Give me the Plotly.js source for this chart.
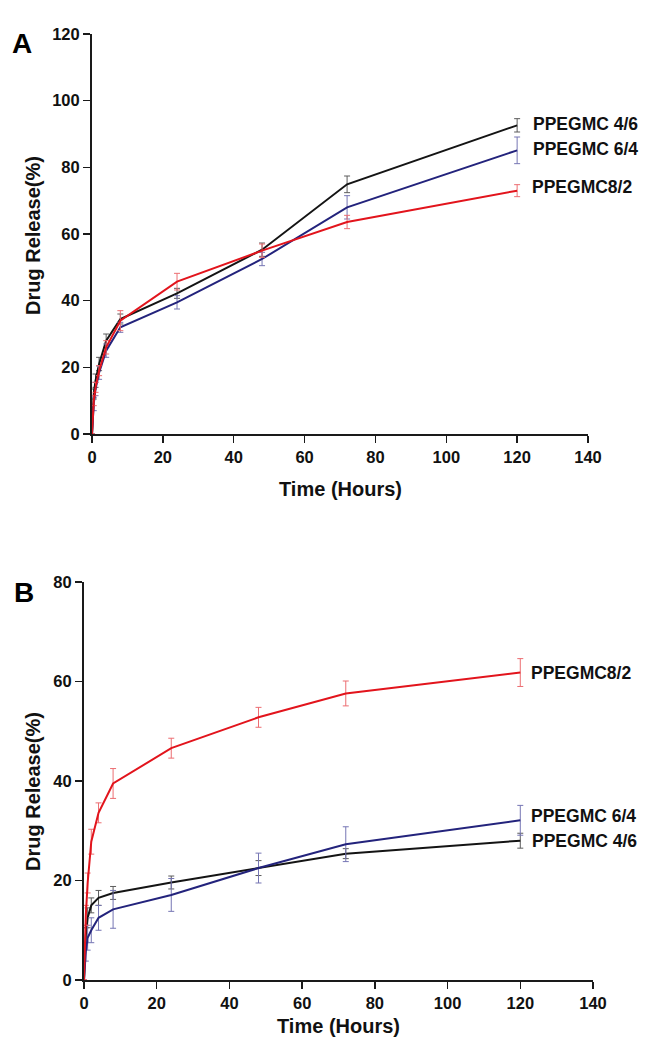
<!DOCTYPE html>
<html>
<head>
<meta charset="utf-8">
<script src="https://cdn.plot.ly/plotly-3.0.1.min.js"></script>
<style>html,body{margin:0;padding:0;background:#fff;}#chart{width:658px;height:1050px;}</style>
</head>
<body>
<div id="chart"></div>
<script>
// ---- data ----
const timeHours = [0, 0.5, 1, 2, 4, 8, 24, 48, 72, 120];

// Panel A
const A_ppegmc46 = [0, 12, 16, 21, 28, 34.5, 42.2, 55.3, 74.9, 92.6];
const A_ppegmc46_sd = [0, 1.5, 2, 2, 2, 1.5, 1.5, 2, 2.5, 2];
const A_ppegmc64 = [0, 9, 13.5, 18.4, 25, 32, 39.5, 52.5, 68, 85.1];
const A_ppegmc64_sd = [0, 2, 2, 2, 2, 1.5, 2, 2, 3.5, 4];
const A_ppegmc82 = [0, 10, 14, 19, 26, 34, 45.7, 55, 63.6, 73];
const A_ppegmc82_sd = [0, 1.5, 1.5, 1.5, 2, 3, 2.5, 2, 2, 1.8];

// Panel B
const B_ppegmc46 = [0, 9, 12.5, 15, 16.5, 17.5, 19.6, 22.5, 25.4, 28];
const B_ppegmc46_sd = [0, 1.5, 2, 1.5, 1.5, 1.3, 1.3, 1.5, 1, 1.5];
const B_ppegmc64 = [0, 5.8, 8.5, 10, 12.5, 14.2, 17.1, 22.5, 27.3, 32.1];
const B_ppegmc64_sd = [0, 2, 2.5, 2.5, 2.5, 3.8, 3.3, 3, 3.5, 3];
const B_ppegmc82 = [0, 13, 19.5, 27.8, 33.6, 39.5, 46.6, 52.8, 57.6, 61.8];
const B_ppegmc82_sd = [0, 2, 2, 2.5, 2, 3, 2, 2, 2.5, 2.8];

const seriesNames = ['PPEGMC 4/6', 'PPEGMC 6/4', 'PPEGMC8/2'];
const xTicks = [0, 20, 40, 60, 80, 100, 120, 140];
const yTicksA = [0, 20, 40, 60, 80, 100, 120];
const yTicksB = [0, 20, 40, 60, 80];
const panelLetters = ['A', 'B'];
const xTitle = 'Time (Hours)';
const yTitle = 'Drug Release(%)';

// ---- styling ----
const FONT = '"Liberation Sans", Arial, Helvetica, sans-serif';
const lineColors = ['#141414', '#23237c', '#e2141c'];
const barColors = ['#5c5c5c', '#7676b4', '#ec6e72'];
const W = 658, H = 1050;
const px = v => v / W;
const py = v => 1 - v / H;

function tr(y, sd, i, xa, ya) {
  return {
    x: timeHours, y: y, type: 'scatter', mode: 'lines',
    name: seriesNames[i], xaxis: xa, yaxis: ya, showlegend: false,
    line: {color: lineColors[i], width: 2},
    error_y: {type: 'data', array: sd, visible: true, color: barColors[i], thickness: 1, width: 3}
  };
}

const data = [
  tr(A_ppegmc46, A_ppegmc46_sd, 0, 'x', 'y'),
  tr(A_ppegmc64, A_ppegmc64_sd, 1, 'x', 'y'),
  tr(A_ppegmc82, A_ppegmc82_sd, 2, 'x', 'y'),
  tr(B_ppegmc46, B_ppegmc46_sd, 0, 'x2', 'y2'),
  tr(B_ppegmc64, B_ppegmc64_sd, 1, 'x2', 'y2'),
  tr(B_ppegmc82, B_ppegmc82_sd, 2, 'x2', 'y2')
];

const axisBase = {
  showgrid: false, zeroline: false, showline: true, linecolor: '#1a1a1a', linewidth: 2,
  ticks: 'outside', ticklen: 7, tickwidth: 1.5, tickcolor: '#1a1a1a',
  tickfont: {family: FONT, size: 16.5, color: '#111', weight: 'bold'},
  fixedrange: true
};

const labFont = {family: FONT, size: 17.5, color: '#111', weight: 'bold'};
const titleFont = {family: FONT, size: 20, color: '#111', weight: 'bold'};
const letterFont = {family: FONT, size: 28, color: '#000', weight: 'bold'};

function seriesLabel(text, xv, yv, xr, yr) {
  return {text: text, x: xv, y: yv, xref: xr, yref: yr, xanchor: 'left', yanchor: 'middle',
          showarrow: false, font: labFont};
}

const layout = {
  width: W, height: H,
  margin: {l: 0, r: 0, t: 0, b: 0},
  paper_bgcolor: '#fff', plot_bgcolor: '#fff',
  showlegend: false,
  xaxis: Object.assign({}, axisBase, {domain: [px(92), px(588)], range: [0, 140], tickvals: xTicks, anchor: 'y'}),
  yaxis: Object.assign({}, axisBase, {domain: [py(434), py(34)], range: [0, 120], tickvals: yTicksA, anchor: 'x'}),
  xaxis2: Object.assign({}, axisBase, {domain: [px(84), px(593)], range: [0, 140], tickvals: xTicks, anchor: 'y2'}),
  yaxis2: Object.assign({}, axisBase, {domain: [py(980), py(582)], range: [0, 80], tickvals: yTicksB, anchor: 'x2'}),
  annotations: [
    {text: panelLetters[0], x: px(22), y: py(43), xref: 'paper', yref: 'paper', showarrow: false, font: letterFont, xanchor: 'center', yanchor: 'middle'},
    {text: panelLetters[1], x: px(24), y: py(592), xref: 'paper', yref: 'paper', showarrow: false, font: letterFont, xanchor: 'center', yanchor: 'middle'},
    {text: yTitle, x: px(33), y: py(236), xref: 'paper', yref: 'paper', showarrow: false, textangle: -90, font: titleFont, xanchor: 'center', yanchor: 'middle'},
    {text: yTitle, x: px(33), y: py(792), xref: 'paper', yref: 'paper', showarrow: false, textangle: -90, font: titleFont, xanchor: 'center', yanchor: 'middle'},
    {text: xTitle, x: px(340), y: py(489), xref: 'paper', yref: 'paper', showarrow: false, font: titleFont, xanchor: 'center', yanchor: 'middle'},
    {text: xTitle, x: px(338), y: py(1026), xref: 'paper', yref: 'paper', showarrow: false, font: titleFont, xanchor: 'center', yanchor: 'middle'},
    seriesLabel(seriesNames[0], 124, 92.9, 'x', 'y'),
    seriesLabel(seriesNames[1], 124, 85.4, 'x', 'y'),
    seriesLabel(seriesNames[2], 123.5, 74, 'x', 'y'),
    seriesLabel(seriesNames[2], 122.4, 61.8, 'x2', 'y2'),
    seriesLabel(seriesNames[1], 122.4, 33, 'x2', 'y2'),
    seriesLabel(seriesNames[0], 122.7, 28, 'x2', 'y2')
  ]
};

Plotly.newPlot('chart', data, layout, {staticPlot: true, displayModeBar: false});
</script>
</body>
</html>
